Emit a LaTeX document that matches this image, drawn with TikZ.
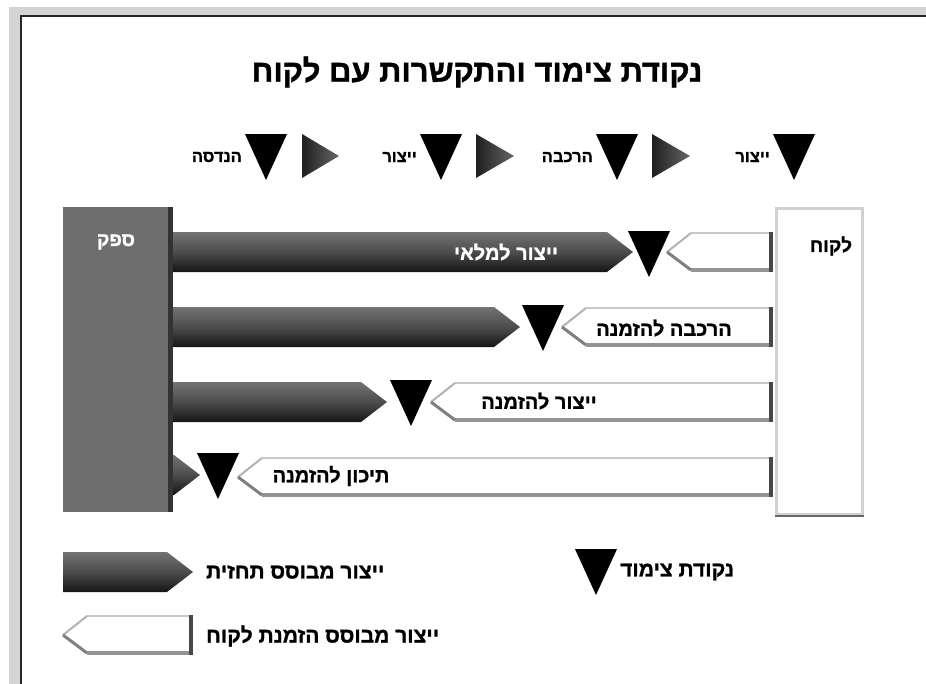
\documentclass[tikz,border=0pt]{standalone}
\usepackage{fontspec}
\newfontfamily\hebfont[Script=Hebrew,BoldFeatures={FakeBold=1.2}]{Liberation Sans}
\TeXXeTstate=1
\newcommand{\hebtxt}[1]{{\hebfont\bfseries\beginR #1\endR}}
\usetikzlibrary{positioning}
\tikzset{
pixel grid/.style={x=1pt,y=-1pt}, % one unit = one pixel, y downwards
frame gray/.style={fill=black!17},
frame line/.style={draw=black!85,line width=2pt},
col lbl/.style={font=\fontsize{19}{22}\selectfont,inner sep=1pt},
step lbl/.style={font=\fontsize{16.5}{19}\selectfont,inner sep=1pt},
row lbl/.style={font=\fontsize{20}{24}\selectfont,inner sep=1pt},
key lbl/.style={font=\fontsize{21}{25}\selectfont,inner sep=1pt},
title lbl/.style={font=\fontsize{31}{35}\selectfont,inner sep=1pt},
forecast/.style={top color=black!55,bottom color=black!92,middle color=black!70},
flow arrow/.style={left color=black!88,right color=black!60},
order top/.style={draw=black!22,line width=2pt},
order slant/.style={draw=black!30,line width=2pt},
order slant dark/.style={draw=black!50,line width=3pt},
order bottom/.style={draw=black!42,line width=4pt},
order right/.style={draw=black!72,line width=4pt},
supplier col/.style={fill=black!57,minimum width=110pt,minimum height=305pt,inner sep=0pt},
customer col/.style={fill=white,draw=black!18,line width=3pt,minimum width=86pt,minimum height=306pt,inner sep=0pt},
couple/.pic={
  \fill[black] (-21,0) -- (21,0) -- (0,46) -- cycle;
  \coordinate (-w) at (-23,23);
  \coordinate (-e) at (23,23);
},
}
% top y, left x, tip x
\newcommand{\forecastbar}[3]{%
  \shade[forecast] (#2,#1) -- (#3-26,#1) -- (#3,#1+20) -- (#3-26,#1+40) -- (#2,#1+40) -- cycle;}
% top y, tip x, right x
\newcommand{\orderbar}[3]{%
  \fill[white] (#2,#1+20) -- (#2+24,#1) -- (#3,#1) -- (#3,#1+40) -- (#2+24,#1+40) -- cycle;
  \draw[order top] (#2+24,#1+1) -- (#3,#1+1);
  \draw[order slant] (#2,#1+20) -- (#2+24,#1+1);
  \draw[order bottom] (#2+24,#1+38) -- (#3-2,#1+38);
  \draw[order slant dark] (#2,#1+20) -- (#2+24,#1+38);
  \draw[order right] (#3-2,#1) -- (#3-2,#1+40);}

\begin{document}
\begin{tikzpicture}[pixel grid]
\useasboundingbox (0,0) rectangle (926,683);
\fill[frame gray] (9,7) rectangle (935,690);
\fill[white] (21,16) rectangle (935,690);
\draw[frame line] (21,690) -- (21,16) -- (935,16);

\node[title lbl] (title) at (477,72) {\hebtxt{נקודת צימוד והתקשרות עם לקוח}};

% chain of steps
\pic (s1) at (266,134) {couple};
\pic (s2) at (441,134) {couple};
\pic (s3) at (617,134) {couple};
\pic (s4) at (794,134) {couple};
\shade[flow arrow] (302,134) -- (339,156) -- (302,178) -- cycle;
\shade[flow arrow] (476,134) -- (514,156) -- (476,178) -- cycle;
\shade[flow arrow] (652,134) -- (690,156) -- (652,178) -- cycle;
\node[step lbl,anchor=east] (eng) at (s1-w) {\hebtxt{הנדסה}};
\node[step lbl,anchor=east] (prod1) at (s2-w) {\hebtxt{ייצור}};
\node[step lbl,anchor=east] (asm) at (s3-w) {\hebtxt{הרכבה}};
\node[step lbl,anchor=east] (prod2) at (s4-w) {\hebtxt{ייצור}};

% supplier and customer
\node[supplier col] (supplier) at (118,359.5) {};
\fill[black!80] (supplier.north east) ++(-5,0) rectangle (supplier.south east);
\node[col lbl,text=white] (spq) at (116,242) {\hebtxt{ספק}};
\node[customer col] (customer) at (819,361) {};
\draw[black!60,line width=2pt] (customer.south west) -- (customer.south east);
\node[col lbl] (lqh) at (831,246) {\hebtxt{לקוח}};

% rows
\forecastbar{232}{173}{633}
\orderbar{232}{667}{773}
\pic (c1) at (649,231) {couple};
\node[row lbl,text=white] (r1) at (506,252) {\hebtxt{ייצור למלאי}};

\forecastbar{307}{173}{520}
\orderbar{307}{562}{773}
\pic (c2) at (543,305) {couple};
\node[row lbl] (r2) at (664,328) {\hebtxt{הרכבה להזמנה}};

\forecastbar{382}{173}{387}
\orderbar{382}{431}{773}
\pic (c3) at (411,380) {couple};
\node[row lbl] (r3) at (539,401) {\hebtxt{ייצור להזמנה}};

\forecastbar{455}{173}{200}
\orderbar{457}{238}{773}
\pic (c4) at (218,453) {couple};
\node[row lbl] (r4) at (331,476) {\hebtxt{תיכון להזמנה}};

% legend
\forecastbar{552}{63}{193}
\node[key lbl,anchor=west] (lg1) at (205,572) {\hebtxt{ייצור מבוסס תחזית}};
\orderbar{615}{63}{193}
\node[key lbl,anchor=west] (lg2) at (205,636) {\hebtxt{ייצור מבוסס הזמנת לקוח}};
\pic (lg) at (596,549) {couple};
\node[key lbl,anchor=west] (lg3) at (lg-e) {\hebtxt{נקודת צימוד}};
\end{tikzpicture}
\end{document}
